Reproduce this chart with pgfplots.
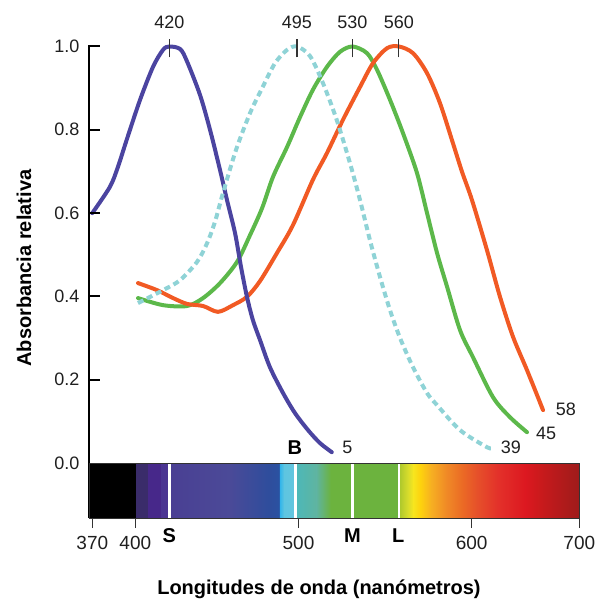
\documentclass[border=0pt]{standalone}
\usepackage{fontspec}
\setmainfont{Liberation Sans}
\usepackage{pgfplots}
\pgfplotsset{compat=1.18}

\definecolor{cS}{HTML}{4B44A0}
\definecolor{cR}{HTML}{8FD3D6}
\definecolor{cM}{HTML}{5CB84A}
\definecolor{cL}{HTML}{F15A24}
\definecolor{sp1}{HTML}{3A2C6A}
\definecolor{sp2}{HTML}{47288A}
\definecolor{sp3}{HTML}{4B3592}
\definecolor{sp4}{HTML}{4A3F93}
\definecolor{sp5}{HTML}{4B4A98}
\definecolor{sp6}{HTML}{2F4D9C}
\definecolor{sp7}{HTML}{2A52A2}
\definecolor{sp8}{HTML}{33B5EA}
\definecolor{sp9}{HTML}{5EC5E0}
\definecolor{sp9b}{HTML}{65C5DE}
\definecolor{sp10}{HTML}{4DB8B8}
\definecolor{sp11}{HTML}{5FB4A0}
\definecolor{sp12}{HTML}{6CB33E}
\definecolor{sp13}{HTML}{A9C62C}
\definecolor{sp14}{HTML}{D8DC2C}
\definecolor{sp15}{HTML}{F7E51D}
\definecolor{sp16}{HTML}{FDD10E}
\definecolor{sp17}{HTML}{F6AE22}
\definecolor{sp18}{HTML}{F08A26}
\definecolor{sp19}{HTML}{EB6A25}
\definecolor{sp20}{HTML}{E6502A}
\definecolor{sp21}{HTML}{E3302A}
\definecolor{sp22}{HTML}{DC1820}
\definecolor{sp23}{HTML}{C81A1C}
\definecolor{sp24}{HTML}{9E1B1B}

\newcommand{\nfont}{\fontsize{18}{20}\selectfont}
\newcommand{\xfont}{\fontsize{19}{21}\selectfont}
\newcommand{\bfont}{\fontsize{20}{24}\selectfont\bfseries}
\newcommand{\seg}[4]{\fill[left color=#3, right color=#4, draw=none] (axis cs:#1,-0.132) rectangle (axis cs:#2,0);}

\begin{document}
\begin{tikzpicture}
\useasboundingbox (-89pt,-81pt) rectangle (508pt,518pt);
\begin{axis}[
  at={(0,0)}, anchor=south west,
  scale only axis, width=490.3pt, height=471.5pt,
  xmin=367.7, xmax=700, ymin=-0.132, ymax=1.0,
  x coord trafo/.code={\pgfmathparse{(#1<400) ? (92.3+(#1-370)*1.4333) : ((#1<495) ? (135.3+(#1-400)*1.7021) : ((#1<500) ? (297+(#1-495)*0.3) : ((#1<530) ? (298.5+(#1-500)*1.8) : ((#1<560) ? (352.5+(#1-530)*1.5433) : ((#1<600) ? (398.8+(#1-560)*1.8225) : (471.7+(#1-600)*1.076))))))}},
  clip=false,
  axis lines*=left,
  x axis line style={line width=0.9pt, black!80},
  y axis line style={line width=2pt, black},
  xtick={370,400,500,600,700}, xticklabels={370,400,500,600,700},
  ytick={0,0.2,0.4,0.6,0.8,1.0}, yticklabels={0.0,0.2,0.4,0.6,0.8,1.0},
  tick align=inside, major tick length=10pt,
  xtick style={line width=1.2pt, black!80, yshift=-10pt},
  tick label style={font=\nfont, text=black!88},
  yticklabel style={xshift=-6pt},
  xticklabel style={yshift=-15pt, font=\xfont},
  xlabel={Longitudes de onda (nanómetros)},
  ylabel={Absorbancia relativa},
  label style={font=\bfont},
  xlabel style={at={(axis description cs:0.469,-0.163)}, anchor=base},
  ylabel style={at={(axis description cs:-0.1326,0.530)}, anchor=center},
]
% spectrum bar
\fill[black] (axis cs:367.7,-0.132) rectangle (axis cs:400.8,0);
\seg{400.8}{407.6}{sp1}{sp1}
\seg{407.6}{415.5}{sp2}{sp2}
\seg{415.5}{420}{sp3}{sp3}
\seg{420}{455}{sp4}{sp5}
\seg{455}{478}{sp5}{sp6}
\seg{478}{485}{sp6}{sp7}
\seg{485}{487.5}{sp8}{sp9}
\seg{487.5}{495}{sp9}{sp9b}
\seg{495}{510}{sp10}{sp11}
\seg{510}{518}{sp11}{sp12}
\seg{518}{560}{sp12}{sp12}
\seg{560}{565}{sp13}{sp14}
\seg{565}{568}{sp14}{sp15}
\seg{568}{572}{sp15}{sp16}
\seg{572}{578}{sp16}{sp17}
\seg{578}{586}{sp17}{sp18}
\seg{586}{595}{sp18}{sp19}
\seg{595}{605}{sp19}{sp20}
\seg{605}{625}{sp20}{sp21}
\seg{625}{650}{sp21}{sp22}
\seg{650}{665}{sp22}{sp23}
\seg{665}{700}{sp23}{sp24}
\draw[white, line width=2.5pt] (axis cs:420,-0.132) -- (axis cs:420,0);
\draw[white, line width=2.5pt] (axis cs:494,-0.132) -- (axis cs:494,0);
\draw[white, line width=2.5pt] (axis cs:530,-0.132) -- (axis cs:530,0);
\draw[white, line width=2.5pt] (axis cs:560,-0.132) -- (axis cs:560,0);
\draw[black!80, line width=0.9pt] (axis cs:367.7,-0.132) rectangle (axis cs:700,0);

% M cone (green)
\addplot[cM, line width=4pt, smooth, line cap=round] coordinates {
(401.6,0.396) (416.3,0.379) (430.4,0.377) (439.8,0.396) (449.8,0.432) (459.8,0.483)
(467.4,0.547) (474.5,0.612) (480.9,0.687) (489.2,0.759) (500.8,0.830) (508.0,0.896)
(515.8,0.951) (523.0,0.987) (530,1.0) (539.4,0.984) (545.9,0.944) (554.3,0.872)
(562.3,0.792) (570.0,0.696) (575.5,0.600) (581.0,0.504) (586.5,0.423) (593.6,0.319)
(601.2,0.254) (619.8,0.158) (635.6,0.110) (651.4,0.074)};
% L cone (orange)
\addplot[cL, line width=4pt, smooth, line cap=round] coordinates {
(401.6,0.432) (412.8,0.415) (422.2,0.396) (430.4,0.382) (439.8,0.377) (448.6,0.363)
(457.4,0.379) (465.6,0.399) (473.3,0.437) (483.2,0.504) (492.6,0.571) (508.0,0.680)
(515.8,0.744) (524.7,0.824) (534.9,0.903) (543.3,0.960) (552.4,0.996) (560.1,1.0)
(567.8,0.984) (575.5,0.936) (582.6,0.864) (589.7,0.768) (594.7,0.699) (600.3,0.631)
(614.2,0.511) (626.3,0.399) (638.4,0.303) (651.4,0.223) (666.3,0.127)};
% S cone (blue)
\addplot[cS, line width=4pt, smooth, line cap=round] coordinates {
(370,0.600) (382.3,0.663) (387.9,0.711) (394.0,0.776) (402.8,0.872) (410.4,0.951)
(416.3,0.992) (420,1.0) (426.3,0.994) (430.2,0.966) (438.0,0.884) (443.9,0.800)
(449.8,0.703) (453.9,0.631) (458.6,0.552) (462.1,0.471) (465.6,0.399) (469.1,0.343)
(473.3,0.295) (479.1,0.230) (486.8,0.168) (493.8,0.120) (505.3,0.079) (511.9,0.048)
(518.5,0.026)};
% rods (dashed)
\addplot[cR, line width=4pt, smooth, dash pattern=on 6pt off 4pt] coordinates {
(401.6,0.384) (416.3,0.415) (426.3,0.439) (436.3,0.483) (442.2,0.528) (446.8,0.579)
(451.5,0.648) (459.2,0.752) (467.4,0.840) (474.5,0.900) (482.1,0.960) (489.2,0.992)
(495,1.0) (506.4,0.977) (513.6,0.912) (521.3,0.823) (528.6,0.720) (534.9,0.631)
(541.3,0.535) (547.8,0.447) (554.3,0.367) (560.7,0.300) (567.8,0.230) (575.5,0.168)
(581.0,0.139) (593.6,0.079) (614.2,0.038) (618.9,0.037)};

% peak markers
\draw[black!80, line width=1.3pt] (axis cs:420,0.974) -- (axis cs:420,1.017);
\draw[black!80, line width=1.3pt] (axis cs:495,0.974) -- (axis cs:495,1.017);
\draw[black!80, line width=1.3pt] (axis cs:530,0.974) -- (axis cs:530,1.017);
\draw[black!80, line width=1.3pt] (axis cs:560,0.974) -- (axis cs:560,1.017);
\node[font=\nfont, text=black!88] at (axis cs:420,1.058) {420};
\node[font=\nfont, text=black!88] at (axis cs:495,1.058) {495};
\node[font=\nfont, text=black!88] at (axis cs:530,1.058) {530};
\node[font=\nfont, text=black!88] at (axis cs:560,1.058) {560};

% end labels
\node[font=\nfont, text=black!88] at (axis cs:527.2,0.037) {5};
\node[font=\nfont, text=black!88] at (axis cs:636.5,0.037) {39};
\node[font=\nfont, text=black!88] at (axis cs:669.1,0.072) {45};
\node[font=\nfont, text=black!88] at (axis cs:687.5,0.128) {58};

% cone letters
\node[font=\bfont] at (axis cs:493.8,0.036) {B};
\node[font=\bfont] at (axis cs:420,-0.175) {S};
\node[font=\bfont] at (axis cs:530,-0.175) {M};
\node[font=\bfont] at (axis cs:559.7,-0.175) {L};
\end{axis}
% y tick marks as small filled bars (axis box origin at 0,0)
\fill[black] (-1pt,137.3pt) rectangle (11pt,139.3pt);
\fill[black] (-1pt,220.6pt) rectangle (11pt,222.6pt);
\fill[black] (-1pt,303.9pt) rectangle (11pt,305.9pt);
\fill[black] (-1pt,387.2pt) rectangle (11pt,389.2pt);
\fill[black] (-1pt,470.5pt) rectangle (11pt,472.5pt);
\end{tikzpicture}
\end{document}
